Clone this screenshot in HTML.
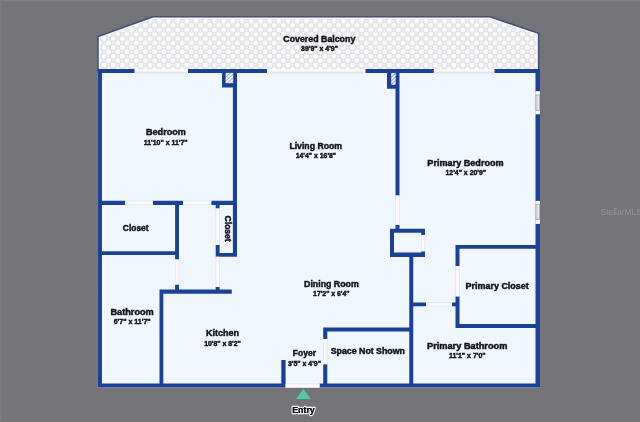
<!DOCTYPE html>
<html><head><meta charset="utf-8"><title>Floor Plan</title>
<style>
html,body{margin:0;padding:0;background:#747378;}
body{width:640px;height:422px;overflow:hidden;}
svg{display:block;}
text{font-family:"Liberation Sans",sans-serif;font-weight:bold;}
</style></head><body>
<svg width="640" height="422" viewBox="0 0 640 422">
<defs>
<pattern id="dots" x="0.5" y="1.2" width="9.2" height="8.8" patternUnits="userSpaceOnUse">
<rect width="9.2" height="8.8" fill="#e0e0e4"/>
<circle cx="2.3" cy="2.2" r="2.5" fill="#fbfbfc"/><circle cx="6.9" cy="6.6" r="2.5" fill="#fbfbfc"/>
<circle cx="6.9" cy="2.2" r="1.1" fill="#f8f8f9"/><circle cx="2.3" cy="6.6" r="1.1" fill="#f8f8f9"/>
</pattern>
<pattern id="hatch" width="2.7" height="2.7" patternUnits="userSpaceOnUse" patternTransform="rotate(-42)"><rect width="2.7" height="2.7" fill="#f4f8fe"/><rect width="2.7" height="1.05" fill="#a9abc0"/></pattern>
<linearGradient id="topg" x1="0" y1="0" x2="0" y2="1"><stop offset="0" stop-color="#86858a"/><stop offset="1" stop-color="#747378"/></linearGradient>
</defs>
<rect width="640" height="422" fill="#747378"/>
<rect width="640" height="2.2" fill="url(#topg)"/>
<rect width="1.6" height="422" fill="#807f84" fill-opacity="0.6"/>
<clipPath id="balc"><polygon points="98,73.5 98,36.5 153,16.8 490,16.8 538.6,33.3 538.6,73.5"/></clipPath>
<polygon points="98,73.5 98,36.5 153,16.8 490,16.8 538.6,33.3 538.6,73.5" fill="none" stroke="#6f778f" stroke-opacity="0.5" stroke-width="3.2"/>
<polygon points="98,73.5 98,36.5 153,16.8 490,16.8 538.6,33.3 538.6,73.5" fill="url(#dots)"/>
<polygon points="98,73.5 98,36.5 153,16.8 490,16.8 538.6,33.3 538.6,73.5" fill="none" stroke="#fafafb" stroke-width="3.6" clip-path="url(#balc)"/>
<polygon points="98,73.5 98,36.5 153,16.8 490,16.8 538.6,33.3 538.6,73.5" fill="none" stroke="#434d74" stroke-width="1.5" stroke-linejoin="miter"/>
<rect x="97.6" y="71.05" width="442.4" height="316.55" fill="#f0f7fe"/>
<rect x="134.5" y="69.5" width="53.5" height="2.1" fill="#fbfbfb"/>
<rect x="134.5" y="71.6" width="53.5" height="1.9" fill="#e4e7ea"/>
<rect x="267" y="69.5" width="98.5" height="2.1" fill="#fbfbfb"/>
<rect x="267" y="71.6" width="98.5" height="1.9" fill="#e4e7ea"/>
<rect x="433.75" y="69.5" width="60.75" height="2.1" fill="#fbfbfb"/>
<rect x="433.75" y="71.6" width="60.75" height="1.9" fill="#e4e7ea"/>
<path d="M97.6 69.05H134.5V72.9H97.6ZM188 69.05H267V72.9H188ZM365.5 69.05H433.75V72.9H365.5ZM494.5 69.05H540V72.9H494.5ZM97.6 69.05H101.95V387.6H97.6ZM535.5 69.05H540V387.6H535.5ZM97.6 383.4H285.6V387.6H97.6ZM319.5 383.4H540V387.6H319.5ZM222 72.9H237V87.6H222ZM387 72.9H399.5V88.8H387ZM232.9 70.05H237V256.8H232.9ZM395.5 70.05H399.5V195.6H395.5ZM395.5 224.7H399.5V229.5H395.5ZM97.6 200.75H125.3V204.9H97.6ZM153 200.75H183V204.9H153ZM211.25 200.75H237V204.9H211.25ZM175.1 201.75H179V259.5H175.1ZM175.1 284.5H179V290H175.1ZM97.6 251.3H179V255.1H97.6ZM215.7 203.9H219.6V208.6H215.7ZM215.7 244.8H219.6V256.8H215.7ZM215.7 253.1H237V256.8H215.7ZM215.7 287H219.6V290H215.7ZM159.5 289.6H231.75V293.7H159.5ZM159.5 289.6H163.3V387.6H159.5ZM281.3 359.9H285.6V387.6H281.3ZM323.2 327.5H327.3V339H323.2ZM323.2 364.2H327.3V387.6H323.2ZM323.2 327.5H413.25V331.4H323.2ZM409.25 257H413.25V387.6H409.25ZM390 228.75H425V232.75H390ZM390 252.5H425V257H390ZM390 228.75H394V257H390ZM421.25 228.75H425V235H421.25ZM421.25 251.25H425V257H421.25ZM455.5 244.9H540V248.8H455.5ZM455.5 244.9H459.5V266.25H455.5ZM455.5 296.25H459.5V328H455.5ZM455.5 323.9H540V328H455.5ZM409.25 302.5H426.25V306.3H409.25ZM452 302.5H459.5V306.3H452Z" fill="#1b4196" fill-rule="nonzero"/>
<rect x="225.6" y="72.9" width="7.6" height="10.3" fill="url(#hatch)"/>
<rect x="391.2" y="72.9" width="4.5" height="11.9" fill="url(#hatch)"/>
<rect x="125.3" y="201.05" width="27.7" height="3.55" fill="#fbfbfb"/>
<rect x="125.3" y="200.55" width="27.7" height="0.7" fill="#e3e5ea"/>
<rect x="125.3" y="204.4" width="27.7" height="0.7" fill="#e3e5ea"/>
<rect x="183" y="201.05" width="28.25" height="3.55" fill="#fbfbfb"/>
<rect x="183" y="200.55" width="28.25" height="0.7" fill="#e3e5ea"/>
<rect x="183" y="204.4" width="28.25" height="0.7" fill="#e3e5ea"/>
<rect x="175.4" y="259.5" width="3.3" height="25" fill="#fbfbfb"/>
<rect x="174.9" y="259.5" width="0.7" height="25" fill="#e3e5ea"/>
<rect x="178.5" y="259.5" width="0.7" height="25" fill="#e3e5ea"/>
<rect x="216" y="208.6" width="3.3" height="36.2" fill="#fbfbfb"/>
<rect x="215.5" y="208.6" width="0.7" height="36.2" fill="#e3e5ea"/>
<rect x="219.1" y="208.6" width="0.7" height="36.2" fill="#e3e5ea"/>
<rect x="216" y="256.8" width="3.3" height="30.2" fill="#fbfbfb"/>
<rect x="215.5" y="256.8" width="0.7" height="30.2" fill="#e3e5ea"/>
<rect x="219.1" y="256.8" width="0.7" height="30.2" fill="#e3e5ea"/>
<rect x="395.8" y="195.6" width="3.4" height="29.1" fill="#fbfbfb"/>
<rect x="395.3" y="195.6" width="0.7" height="29.1" fill="#e3e5ea"/>
<rect x="399" y="195.6" width="0.7" height="29.1" fill="#e3e5ea"/>
<rect x="421.5" y="235" width="3.2" height="16.25" fill="#fbfbfb"/>
<rect x="421" y="235" width="0.7" height="16.25" fill="#e3e5ea"/>
<rect x="424.5" y="235" width="0.7" height="16.25" fill="#e3e5ea"/>
<rect x="455.8" y="266.25" width="3.4" height="30.25" fill="#fbfbfb"/>
<rect x="455.3" y="266.25" width="0.7" height="30.25" fill="#e3e5ea"/>
<rect x="459" y="266.25" width="0.7" height="30.25" fill="#e3e5ea"/>
<rect x="426.25" y="302.8" width="25.75" height="3.2" fill="#fbfbfb"/>
<rect x="426.25" y="302.3" width="25.75" height="0.7" fill="#e3e5ea"/>
<rect x="426.25" y="305.8" width="25.75" height="0.7" fill="#e3e5ea"/>
<rect x="323.5" y="339" width="3.5" height="25.2" fill="#fbfbfb"/>
<rect x="323" y="339" width="0.7" height="25.2" fill="#e3e5ea"/>
<rect x="326.8" y="339" width="0.7" height="25.2" fill="#e3e5ea"/>
<rect x="285.6" y="384" width="33.9" height="3.4" fill="#fbfbfb"/>
<rect x="285.6" y="383.5" width="33.9" height="0.7" fill="#e3e5ea"/>
<rect x="285.6" y="387.2" width="33.9" height="0.7" fill="#e3e5ea"/>
<rect x="535.4" y="91.2" width="4.5" height="23.1" fill="#fdfdfd"/>
<rect x="536.0" y="95" width="3.3" height="15.6" fill="#f4f4f5" stroke="#9a9a9f" stroke-width="0.8"/>
<rect x="537.4" y="95" width="0.6" height="15.6" fill="#c4c4c8"/>
<rect x="535.4" y="200.8" width="4.5" height="23.1" fill="#fdfdfd"/>
<rect x="536.0" y="204.2" width="3.3" height="15.1" fill="#f4f4f5" stroke="#9a9a9f" stroke-width="0.8"/>
<rect x="537.4" y="204.2" width="0.6" height="15.1" fill="#c4c4c8"/>
</svg>
<svg width="640" height="422" viewBox="0 0 640 422" style="position:absolute;left:0;top:0;will-change:transform">
<text transform="translate(319.30,41.70) scale(0.9847,1)" font-size="8.95" text-anchor="middle" fill="#101017" stroke="#101017" stroke-width="0.45">Covered Balcony</text>
<text transform="translate(319.50,50.85) scale(0.9405,1)" font-size="7.4" text-anchor="middle" fill="#101017" stroke="#101017" stroke-width="0.45">39'9&quot; x 4'9&quot;</text>
<text transform="translate(165.90,135.30) scale(1.0106,1)" font-size="8.95" text-anchor="middle" fill="#101017" stroke="#101017" stroke-width="0.45">Bedroom</text>
<text transform="translate(165.70,144.95) scale(0.9417,1)" font-size="7.4" text-anchor="middle" fill="#101017" stroke="#101017" stroke-width="0.45">11'10&quot; x 11'7&quot;</text>
<text transform="translate(315.70,148.90) scale(0.9724,1)" font-size="8.95" text-anchor="middle" fill="#101017" stroke="#101017" stroke-width="0.45">Living Room</text>
<text transform="translate(315.90,158.35) scale(0.9320,1)" font-size="7.4" text-anchor="middle" fill="#101017" stroke="#101017" stroke-width="0.45">14'4&quot; x 16'8&quot;</text>
<text transform="translate(465.50,165.70) scale(1.0159,1)" font-size="8.95" text-anchor="middle" fill="#101017" stroke="#101017" stroke-width="0.45">Primary Bedroom</text>
<text transform="translate(465.80,175.25) scale(0.9366,1)" font-size="7.4" text-anchor="middle" fill="#101017" stroke="#101017" stroke-width="0.45">12'4&quot; x 20'9&quot;</text>
<text transform="translate(135.70,230.80) scale(0.9432,1)" font-size="8.95" text-anchor="middle" fill="#101017" stroke="#101017" stroke-width="0.45">Closet</text>
<text transform="translate(132.10,314.70) scale(1.0245,1)" font-size="8.95" text-anchor="middle" fill="#101017" stroke="#101017" stroke-width="0.45">Bathroom</text>
<text transform="translate(132.15,324.25) scale(0.9532,1)" font-size="7.4" text-anchor="middle" fill="#101017" stroke="#101017" stroke-width="0.45">6'7&quot; x 11'7&quot;</text>
<text transform="translate(222.45,336.30) scale(1.0055,1)" font-size="8.95" text-anchor="middle" fill="#101017" stroke="#101017" stroke-width="0.45">Kitchen</text>
<text transform="translate(222.50,345.95) scale(0.9354,1)" font-size="7.4" text-anchor="middle" fill="#101017" stroke="#101017" stroke-width="0.45">10'8&quot; x 8'2&quot;</text>
<text transform="translate(331.40,286.70) scale(0.9842,1)" font-size="8.95" text-anchor="middle" fill="#101017" stroke="#101017" stroke-width="0.45">Dining Room</text>
<text transform="translate(331.30,296.25) scale(0.9303,1)" font-size="7.4" text-anchor="middle" fill="#101017" stroke="#101017" stroke-width="0.45">17'2&quot; x 6'4&quot;</text>
<text transform="translate(304.40,355.50) scale(0.9519,1)" font-size="8.95" text-anchor="middle" fill="#101017" stroke="#101017" stroke-width="0.45">Foyer</text>
<text transform="translate(304.40,365.55) scale(0.9397,1)" font-size="7.4" text-anchor="middle" fill="#101017" stroke="#101017" stroke-width="0.45">3'5&quot; x 4'9&quot;</text>
<text transform="translate(367.80,353.80) scale(0.9817,1)" font-size="8.95" text-anchor="middle" fill="#101017" stroke="#101017" stroke-width="0.45">Space Not Shown</text>
<text transform="translate(497.15,289.10) scale(1.0020,1)" font-size="8.95" text-anchor="middle" fill="#101017" stroke="#101017" stroke-width="0.45">Primary Closet</text>
<text transform="translate(467.20,348.50) scale(1.0309,1)" font-size="8.95" text-anchor="middle" fill="#101017" stroke="#101017" stroke-width="0.45">Primary Bathroom</text>
<text transform="translate(467.30,358.25) scale(0.9456,1)" font-size="7.4" text-anchor="middle" fill="#101017" stroke="#101017" stroke-width="0.45">11'1&quot; x 7'0&quot;</text>
<text transform="translate(224.7,228.65) rotate(90) scale(0.9542,1)" font-size="8.95" text-anchor="middle" fill="#101017" stroke="#101017" stroke-width="0.45">Closet</text>
<polygon points="303.4,388.9 310.8,398.9 296.1,398.9" fill="#4bcdaa"/>
<text transform="translate(303.5,412.6) scale(0.9879,1)" font-size="8.95" text-anchor="middle" fill="#111116" stroke="#f6f6f6" stroke-width="2.5" stroke-linejoin="round" paint-order="stroke">Entry</text>
<text transform="translate(303.5,412.6) scale(0.9879,1)" font-size="8.95" text-anchor="middle" fill="#111116" stroke="#111116" stroke-width="0.1">Entry</text>
<text transform="translate(600.5,215) scale(0.9,1)" font-size="9.4" style="font-weight:normal" fill="#ffffff" fill-opacity="0.24">StellarMLS</text>
</svg>
</body></html>
